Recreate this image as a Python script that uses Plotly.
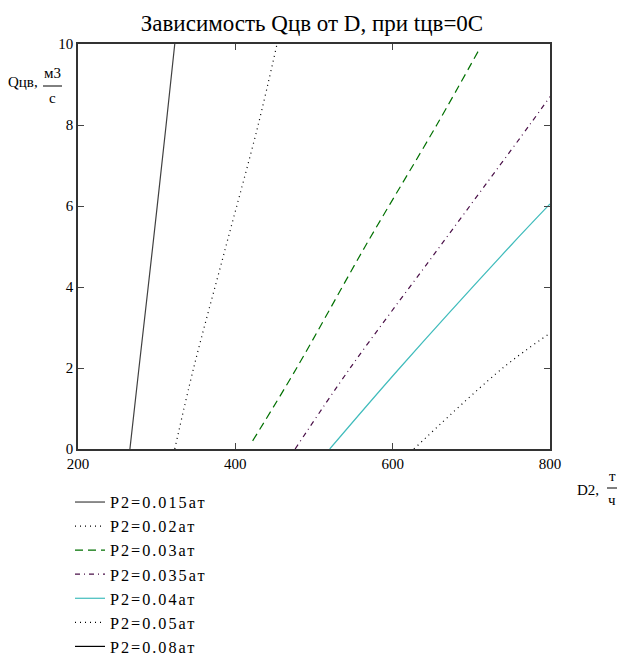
import plotly.graph_objects as go

# Data (D2 in t/h, Q in m3/s)
names = ["P2=0.015ат", "P2=0.02ат", "P2=0.03ат", "P2=0.035ат", "P2=0.04ат", "P2=0.05ат", "P2=0.08ат"]
d_015 = [266, 277.5, 295, 312, 323]
q_015 = [0, 2, 5, 8, 10]
d_02 = [323, 347, 388, 429, 453]
q_02 = [0, 2, 5, 8, 10]
d_03 = [422, 478, 565, 656, 711]
q_03 = [0.2, 2, 5, 8, 9.9]
d_035 = [476, 546, 660, 774, 800]
q_035 = [0, 2, 5, 8, 8.7]
d_04 = [520, 609, 749, 800]
q_04 = [0, 2, 5, 6.05]
d_05 = [627, 740, 800]
q_05 = [0, 2, 2.86]
d_08 = [None]
q_08 = [None]

xs = [d_015, d_02, d_03, d_035, d_04, d_05, d_08]
ys = [q_015, q_02, q_03, q_035, q_04, q_05, q_08]
colors = ["#404040", "#000000", "#007000", "#4a1048", "#40bcbc", "#000000", "#000000"]
dashes = ["solid", "1px,4px", "8px,5px", "5px,4px,1px,4px", "solid", "1px,4px", "solid"]

fig = go.Figure()
for x, y, n, c, d in zip(xs, ys, names, colors, dashes):
    fig.add_trace(go.Scatter(
        x=x, y=y, mode="lines", showlegend=True,
        name='<span style="letter-spacing:2px;font-family:Liberation Serif">' + n + '</span>',
        line=dict(color=c, width=1.2, dash=d, shape="spline", smoothing=1.0)))

font = "Liberation Serif, Times New Roman, serif"
L, R, T, B = 78, 550, 44, 449
fig.update_layout(
    width=622, height=656,
    margin=dict(l=L, r=622 - R, t=T, b=656 - B, autoexpand=False),
    paper_bgcolor="white", plot_bgcolor="white",
    title=dict(text="Зависимость Qцв от D, при tцв=0C", x=312 / 622, xanchor="center",
               xref="container", y=1 - 23 / 656, yanchor="middle",
               font=dict(family=font, size=23, color="black")),
    font=dict(family=font, size=15, color="black"),
    showlegend=True,
    legend=dict(x=(70 - L) / (R - L), xanchor="left", y=-(485 - B) / (B - T), yanchor="top",
                tracegroupgap=0, itemwidth=30,
                font=dict(family=font, size=16.2, color="black"),
                bgcolor="rgba(0,0,0,0)"),
    xaxis=dict(range=[200, 800], tickvals=[200, 400, 600, 800], ticks="inside", ticklen=6,
               showline=True, linecolor="#333", linewidth=1.5, mirror="ticks",
               showgrid=False, zeroline=False, tickfont=dict(family=font, size=15)),
    yaxis=dict(range=[0, 10], tickvals=[0, 2, 4, 6, 8, 10], ticks="inside", ticklen=6,
               showline=True, linecolor="#333", linewidth=1.5, mirror="ticks",
               showgrid=False, zeroline=False, tickfont=dict(family=font, size=15)),
)

def px_x(p):
    return (p - L) / (R - L)

def px_y(p):
    return (B - p) / (B - T)

ann = [
    ("Qцв,", 23, 82),
    ("м3", 52, 73),
    ("с", 52, 98),
    ("D2,", 588, 490),
    ("т", 612, 476),
    ("ч", 612, 500),
]
for t, x, y in ann:
    fig.add_annotation(text=t, x=px_x(x), y=px_y(y), xref="paper", yref="paper",
                       showarrow=False, xanchor="center", yanchor="middle",
                       font=dict(family=font, size=15, color="black"))
fig.add_shape(type="line", xref="paper", yref="paper", x0=px_x(43), x1=px_x(62),
              y0=px_y(86), y1=px_y(86), line=dict(color="black", width=1))
fig.add_shape(type="line", xref="paper", yref="paper", x0=px_x(607), x1=px_x(617),
              y0=px_y(488), y1=px_y(488), line=dict(color="black", width=1))

fig.write_html("out.html")
